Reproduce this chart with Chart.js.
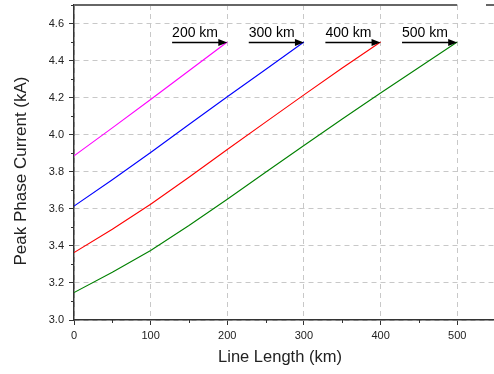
<!DOCTYPE html>
<html>
<head>
<meta charset="utf-8">
<script src="https://cdn.jsdelivr.net/npm/chart.js@4.4.0/dist/chart.umd.min.js"></script>
<style>
  html, body { margin: 0; padding: 0; background: #fff; overflow: hidden; }
</style>
</head>
<body>
<canvas id="myChart" width="494" height="374"></canvas>
<script>
// line lengths (km) sampled every 50 km
var len200 = [0, 50, 100, 150, 200];
var len300 = [0, 50, 100, 150, 200, 250, 300];
var len400 = [0, 50, 100, 150, 200, 250, 300, 350, 400];
var len500 = [0, 50, 100, 150, 200, 250, 300, 350, 400, 450, 500];

// peak phase current (kA)
var cur200 = [3.886, 4.037, 4.19, 4.345, 4.5];
var cur300 = [3.615, 3.757, 3.904, 4.055, 4.205, 4.352, 4.5];
var cur400 = [3.364, 3.49, 3.625, 3.77, 3.92, 4.068, 4.215, 4.36, 4.5];
var cur500 = [3.148, 3.258, 3.375, 3.51, 3.652, 3.797, 3.942, 4.085, 4.225, 4.363, 4.5];

var xTicks = [0, 100, 200, 300, 400, 500];
var xMinor = [50, 150, 250, 350, 450, 550];
var yTicks = [3.0, 3.2, 3.4, 3.6, 3.8, 4.0, 4.2, 4.4, 4.6];
var yMinor = [3.1, 3.3, 3.5, 3.7, 3.9, 4.1, 4.3, 4.5, 4.7];

// arrow labels: arrow ends at (end, 4.5), starts 72 km to the left
var arrowEnds = [200, 300, 400, 500];
var arrowLabels = ['200 km', '300 km', '400 km', '500 km'];
var arrowY = 4.5;
var arrowLen = 72;

var FONT = '"Liberation Sans", Arial, sans-serif';

function pts(xs, ys) {
  return xs.map(function(x, i) { return { x: x, y: ys[i] }; });
}

var extras = {
  id: 'extras',
  afterDraw: function(chart) {
    var ctx = chart.ctx;
    var xs = chart.scales.x, ys = chart.scales.y;
    var area = chart.chartArea;
    ctx.save();

    // minor ticks
    ctx.strokeStyle = '#333';
    ctx.lineWidth = 1;
    ctx.beginPath();
    xMinor.forEach(function(v) {
      var px = Math.round(xs.getPixelForValue(v)) + 0.5;
      if (px > area.right) return;
      ctx.moveTo(px, area.bottom);
      ctx.lineTo(px, area.bottom + 3);
    });
    yMinor.forEach(function(v) {
      var py = Math.round(ys.getPixelForValue(v)) + 0.5;
      ctx.moveTo(area.left, py);
      ctx.lineTo(area.left - 3, py);
    });
    ctx.stroke();

    // top frame line (broken near the right)
    ctx.strokeStyle = '#666';
    ctx.lineWidth = 2;
    ctx.beginPath();
    ctx.moveTo(area.left, area.top);
    ctx.lineTo(xs.getPixelForValue(500), area.top);
    ctx.moveTo(486, area.top);
    ctx.lineTo(area.right, area.top);
    ctx.stroke();

    // arrows + labels
    ctx.fillStyle = '#000';
    ctx.strokeStyle = '#000';
    ctx.lineWidth = 1.3;
    ctx.font = '14px ' + FONT;
    ctx.textAlign = 'left';
    ctx.textBaseline = 'alphabetic';
    arrowEnds.forEach(function(e, i) {
      var x1 = xs.getPixelForValue(e - arrowLen);
      var x2 = xs.getPixelForValue(e);
      var y = Math.round(ys.getPixelForValue(arrowY)) + 0.5;
      ctx.beginPath();
      ctx.moveTo(x1, y);
      ctx.lineTo(x2 - 6, y);
      ctx.stroke();
      ctx.beginPath();
      ctx.moveTo(x2, y);
      ctx.lineTo(x2 - 9, y - 3.5);
      ctx.lineTo(x2 - 9, y + 3.5);
      ctx.closePath();
      ctx.fill();
      ctx.fillText(arrowLabels[i], x1, y - 5.5);
    });

    // axis titles
    ctx.fillStyle = '#222';
    ctx.font = '16.5px ' + FONT;
    ctx.textAlign = 'center';
    ctx.textBaseline = 'middle';
    ctx.fillText('Line Length (km)', 280, 357);
    ctx.translate(21, 171);
    ctx.rotate(-Math.PI / 2);
    ctx.font = '17px ' + FONT;
    ctx.fillText('Peak Phase Current (kA)', 0, 0);
    ctx.restore();
  }
};

var ctx = document.getElementById('myChart').getContext('2d');

var myChart = new Chart(ctx, {
  type: 'scatter',
  data: {
    datasets: [
      { label: '200 km', data: pts(len200, cur200), borderColor: '#ff00ff' },
      { label: '300 km', data: pts(len300, cur300), borderColor: '#0000ff' },
      { label: '400 km', data: pts(len400, cur400), borderColor: '#ff0000' },
      { label: '500 km', data: pts(len500, cur500), borderColor: '#008000' }
    ]
  },
  options: {
    responsive: false,
    animation: false,
    devicePixelRatio: 1,
    showLine: true,
    layout: { padding: { top: 5, right: 0, left: 0, bottom: 0 } },
    elements: {
      point: { radius: 0, hoverRadius: 0 },
      line: { borderWidth: 1.1, tension: 0, fill: false }
    },
    plugins: {
      legend: { display: false },
      tooltip: { enabled: false }
    },
    scales: {
      x: {
        type: 'linear',
        min: 0,
        max: 548,
        afterBuildTicks: function(scale) {
          scale.ticks = xTicks.map(function(v) { return { value: v }; });
        },
        afterFit: function(scale) {
          scale.height = 54;
          scale.paddingRight = 0;
        },
        grid: {
          color: '#c8c8c8',
          lineWidth: 1,
          tickColor: '#333',
          tickLength: 5,
          tickBorderDash: []
        },
        border: { color: '#333', width: 1.5, dash: [5, 4] },
        ticks: {
          padding: 4,
          color: '#222',
          font: { family: FONT, size: 11 },
          maxRotation: 0,
          callback: function(v) { return v; }
        }
      },
      y: {
        min: 3.0,
        max: 4.7,
        afterBuildTicks: function(scale) {
          scale.ticks = yTicks.map(function(v) { return { value: v }; });
        },
        afterFit: function(scale) {
          scale.width = 74;
          scale.paddingTop = 0;
          scale.paddingBottom = 0;
        },
        grid: {
          color: '#c8c8c8',
          lineWidth: 1,
          tickColor: '#333',
          tickLength: 5,
          tickBorderDash: []
        },
        border: { color: '#333', width: 1.5, dash: [5, 4] },
        ticks: {
          padding: 5,
          color: '#222',
          font: { family: FONT, size: 11 },
          callback: function(v) { return v.toFixed(1); }
        }
      }
    }
  },
  plugins: [extras]
});
</script>
</body>
</html>
